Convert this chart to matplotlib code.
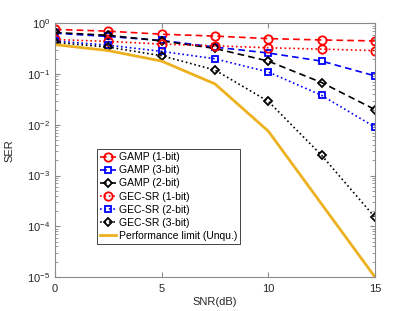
import numpy as np
import matplotlib
matplotlib.use('Agg')
import matplotlib.pyplot as plt
from matplotlib.ticker import LogLocator, NullFormatter

plt.rcParams['font.family'] = ['Liberation Sans', 'DejaVu Sans']

snr = [0, 2.5, 5, 7.5, 10, 12.5, 15]
gamp_1bit = [0.76, 0.70, 0.61, 0.56, 0.50, 0.47, 0.45]
gamp_3bit = [0.64, 0.55, 0.46, 0.34, 0.26, 0.18, 0.092]
gamp_2bit = [0.66, 0.58, 0.45, 0.32, 0.18, 0.068, 0.020]
gec_1bit = [0.48, 0.44, 0.39, 0.36, 0.33, 0.31, 0.29]
gec_2bit = [0.45, 0.37, 0.28, 0.20, 0.11, 0.038, 0.0090]
gec_3bit = [0.42, 0.34, 0.23, 0.12, 0.029, 0.0025, 0.00015]
snr_limit = [0, 2.5, 5, 7.5, 10, 15]
limit = [0.38, 0.29, 0.18, 0.064, 0.0075, 1e-5]

labels = ['GAMP (1-bit)', 'GAMP (3-bit)', 'GAMP (2-bit)',
          'GEC-SR (1-bit)', 'GEC-SR (2-bit)', 'GEC-SR (3-bit)',
          'Performance limit (Unqu.)']

fig = plt.figure(figsize=(4.15, 3.11), dpi=100)
ax = fig.add_axes([0.1325, 0.1093, 0.771, 0.8157])

ms = 6
mew = 1.3
lw = 1.2
dash = (4, 2.5)
ax.semilogy(snr, gamp_1bit, 'r--o', lw=lw, ms=ms, mew=mew, mfc='none', dashes=dash, label=labels[0])
ax.semilogy(snr, gamp_3bit, 'b--s', lw=lw, ms=5, mew=mew, mfc='none', dashes=dash, label=labels[1])
ax.semilogy(snr, gamp_2bit, 'k--D', lw=lw, ms=4.5, mew=mew, mfc='none', dashes=dash, label=labels[2])
ax.semilogy(snr, gec_1bit, 'r:o', lw=lw, ms=ms, mew=mew, mfc='none', label=labels[3])
ax.semilogy(snr, gec_2bit, 'b:s', lw=lw, ms=5, mew=mew, mfc='none', label=labels[4])
ax.semilogy(snr, gec_3bit, 'k:D', lw=lw, ms=4.5, mew=mew, mfc='none', label=labels[5])
ax.semilogy(snr_limit, limit, '-', color=(0.929, 0.694, 0.125), lw=2, label=labels[6])

ax.set_xlim(0, 15)
ax.set_ylim(1e-5, 1)
ax.set_xticks([0, 5, 10, 15])
ax.yaxis.set_major_locator(LogLocator(base=10, numticks=10))
ax.yaxis.set_minor_locator(LogLocator(base=10, subs=np.arange(2, 10), numticks=20))
ax.yaxis.set_minor_formatter(NullFormatter())

gray = '#8a8a8a'
for s in ax.spines.values():
    s.set_color(gray)
    s.set_linewidth(0.8)
ax.tick_params(which='both', direction='in', top=True, right=True, color=gray,
               labelsize=8, labelcolor='#262626')
ax.tick_params(which='major', length=3.5)
ax.tick_params(which='minor', length=2)
ax.tick_params(axis='x', pad=5)

ax.set_xlabel('SNR(dB)', fontsize=8, color='#262626', labelpad=2)
ax.set_ylabel('SER', fontsize=8, color='#262626', labelpad=9)

leg = ax.legend(loc='lower left', bbox_to_anchor=(0.13, 0.13), fontsize=7.5,
                handlelength=1.6, handletextpad=0.25, labelspacing=0.3,
                borderpad=0.3, borderaxespad=0, fancybox=False, framealpha=1)
leg.get_frame().set_edgecolor('#262626')
leg.get_frame().set_linewidth(0.6)

fig.savefig('out.png', dpi=100)
